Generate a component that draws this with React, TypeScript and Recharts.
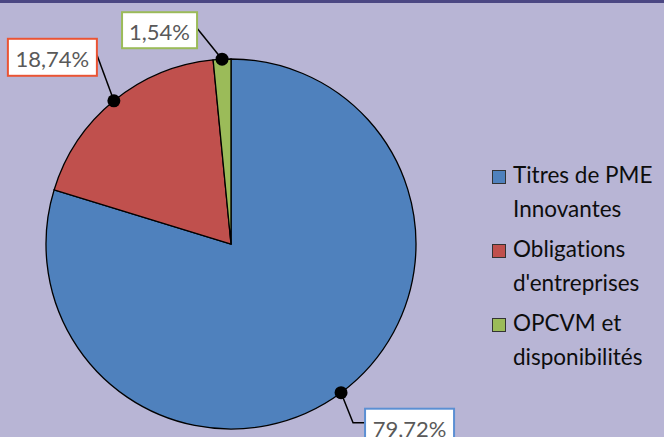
import { Legend, Pie, PieChart } from "recharts";

const categories = [
  "Titres de PME Innovantes",
  "Obligations d'entreprises",
  "OPCVM et disponibilités",
];
const shares = [79.72, 18.74, 1.54];
const labels = ["79,72%", "18,74%", "1,54%"];
const colors = ["#4f81bd", "#c0504d", "#9bbb59"];
const labelBorders = ["#5b8fd3", "#ea5434", "#9bbb59"];

const data = categories.map((name, i) => ({
  name,
  value: shares[i],
  fill: colors[i],
}));

// label box placement relative to the dot on the arc
const boxLayout = [
  { dx: 24, dy: 16, w: 89, h: 37, line: "elbow" },
  { dx: -106, dy: -62, w: 89, h: 37, line: "straight" },
  { dx: -100, dy: -47, w: 75, h: 36, line: "straight" },
];

const RADIAN = Math.PI / 180;

function renderLabel(props: any) {
  const { cx, cy, midAngle, outerRadius, index } = props;
  const x = cx + outerRadius * Math.cos(-midAngle * RADIAN);
  const y = cy + outerRadius * Math.sin(-midAngle * RADIAN);
  const b = boxLayout[index];
  const bx = x + b.dx;
  const by = y + b.dy;
  let path: string;
  if (b.line === "elbow") {
    path = `M${x},${y} L${x + 12},${by + 14} L${bx},${by + 14}`;
  } else {
    path = `M${x},${y} L${bx + b.w},${by + 16}`;
  }
  return (
    <g key={`lbl-${index}`}>
      <path d={path} fill="none" stroke="#000" strokeWidth={1.5} />
      <circle cx={x} cy={y} fill="#000" r={6.5} />
      <rect
        fill="#fff"
        height={b.h}
        stroke={labelBorders[index]}
        strokeWidth={2}
        width={b.w}
        x={bx}
        y={by}
      />
      <text
        dominantBaseline="central"
        fill="#595959"
        fontFamily="Lato, sans-serif"
        fontSize={22}
        textAnchor="middle"
        x={bx + b.w / 2}
        y={by + b.h / 2 + 1}
      >
        {labels[index]}
      </text>
    </g>
  );
}

function LegendContent() {
  return (
    <div
      style={{
        fontFamily: "Lato, sans-serif",
        fontSize: 22.5,
        color: "#0d0d0d",
        fontVariantLigatures: "none",
      }}
    >
      {categories.map((c, i) => (
        <div
          key={c}
          style={{ display: "flex", alignItems: "flex-start", marginBottom: 11 }}
        >
          <span
            style={{
              display: "inline-block",
              width: 12,
              height: 12,
              background: colors[i],
              border: "1px solid #333",
              marginTop: 7,
              marginRight: 7,
              flex: "none",
            }}
          />
          <span style={{ lineHeight: "34px", marginTop: -5 }}>{c}</span>
        </div>
      ))}
    </div>
  );
}

export default function App() {
  return (
    <div
      style={{
        position: "absolute",
        left: 0,
        top: 0,
        width: 664,
        height: 437,
        background: "#b8b5d5",
        borderTop: "3px solid #4b4783",
        boxSizing: "border-box",
        overflow: "hidden",
      }}
    >
      <PieChart height={434} width={664}>
        <Pie
          cx={226}
          cy={236}
          data={data}
          dataKey="value"
          endAngle={-270}
          isAnimationActive={false}
          label={renderLabel}
          labelLine={false}
          outerRadius={185}
          startAngle={90}
          stroke="#000"
          strokeWidth={1.3}
        />
        <Legend
          content={<LegendContent />}
          layout="vertical"
          wrapperStyle={{ left: 492, top: 160, width: 172 }}
        />
      </PieChart>
    </div>
  );
}
